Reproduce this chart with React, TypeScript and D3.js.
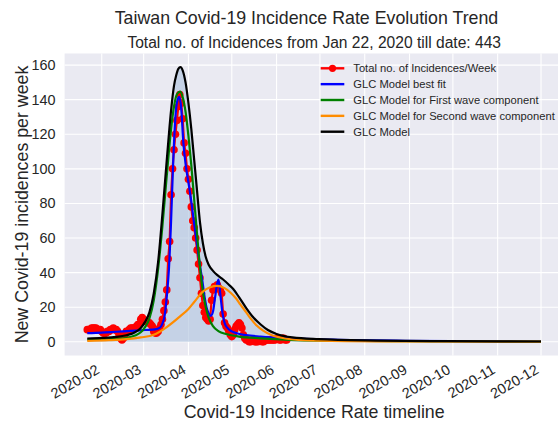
import React from 'react';
import * as d3 from 'd3';

// Day 0 = 2020-01-22
const START_DATE = '2020-01-22';

// Total no. of incidences per week (rolling), one value per day from Jan 22
const weeklyIncidences: number[] = [
  7, 7, 7, 8, 8, 8, 8, 7, 7, 7,
  6, 5, 5, 5, 6, 6,
  7, 7, 8, 7, 7, 6,
  4, 2, 1, 2,
  4, 6, 6, 7, 8, 8, 8, 8,
  9, 10, 10, 13, 14, 13,
  12, 12, 11, 11, 10, 9,
  6, 5, 5, 6, 8, 10, 13, 18, 23, 30,
  48, 58, 85, 100, 111, 120, 128, 136, 143,
  138, 129, 115, 109, 100, 94, 87, 78, 70, 66, 60,
  53, 45, 37, 28, 21, 17, 14, 13, 12, 13,
  24, 30, 32, 32, 33, 31, 30, 28, 16, 11,
  9, 8, 6, 4, 3, 4, 7, 9, 10, 11, 10, 8, 4, 2, 1,
  1, 0, 0, 1, 1, 0, 0, 0, 1, 1, 0, 0, 1, 1, 1, 1, 1, 1, 1, 1,
  2, 2, 1, 1, 2, 2, 1, 1,
];

// [day offset, value]
const glcBestFit: [number, number][] = [
  [0, 5], [10, 5.3], [20, 5.8], [30, 6.3], [40, 6.8], [47, 7.2], [50, 8], [52, 10.5],
  [53.5, 15], [55, 26], [56.5, 42], [58, 70], [59.5, 105], [61, 130], [62.5, 140],
  [63.7, 141.7], [65, 135], [66.5, 115], [68, 103], [70, 92], [71.5, 84], [74, 68],
  [76, 56], [78, 44], [79.5, 36], [81, 27], [82.5, 20], [84, 16.5], [85.5, 15],
  [87, 17.5], [88.5, 26], [90, 34], [90.8, 36], [92, 28], [93.5, 17], [95, 11],
  [97, 8], [100, 6], [104, 4.8], [110, 3.8], [120, 3], [140, 2], [170, 1.2],
  [220, 0.6], [314, 0.2],
];

const glcFirstWave: [number, number][] = [
  [0, 1.2], [15, 1.5], [27, 2.3], [33, 3.6], [37, 5.5], [40, 8.5], [43, 13.5],
  [46, 24], [49, 42], [52, 67], [55, 96], [58, 123], [60, 136], [62, 143],
  [64.3, 144.6], [66, 141.5], [68, 133], [70, 119], [72, 102], [74, 82], [76, 62],
  [78, 43], [80, 29], [82, 20], [84, 14], [87, 9], [91, 6], [96, 4.5], [105, 3],
  [120, 2], [140, 1.1], [170, 0.6], [220, 0.3], [314, 0.1],
];

const glcSecondWave: [number, number][] = [
  [0, 0.5], [15, 0.9], [27, 1.5], [37, 2.5], [46, 4], [55, 8.5], [64, 14.5],
  [70, 19], [74, 23], [80, 29], [85, 31.5], [90, 32.3], [95, 31], [99, 28.5],
  [103, 25], [106, 21.5], [110, 17], [113, 13.5], [117, 9.5], [122, 6.3],
  [127, 4], [131, 2.9], [137, 1.9], [143, 1.3], [160, 0.6], [200, 0.2], [314, 0.05],
];

const glcModel: [number, number][] = [
  [0, 1.9], [10, 2.2], [20, 2.8], [27, 3.8], [33, 5.5], [37, 8], [40, 11.5],
  [43, 17], [46, 28], [49, 46], [52, 74], [55, 105], [58, 134], [60, 148],
  [61.5, 154], [63, 157.8], [64.5, 158.8], [66, 157], [68, 150], [70, 138],
  [72, 123], [74, 105], [76, 87], [78, 69], [80, 57], [82, 49], [84, 44.5],
  [87, 41], [90, 38.5], [94, 36], [98, 33], [101, 30.5], [105, 25.8], [110, 19.5],
  [115, 14], [120, 10], [125, 6.8], [131, 4.5], [142, 2.5], [160, 1.5],
  [200, 0.7], [250, 0.35], [314, 0.15],
];

const monthTickLabels = [
  '2020-02', '2020-03', '2020-04', '2020-05', '2020-06', '2020-07',
  '2020-08', '2020-09', '2020-10', '2020-11', '2020-12',
];
const yTicks = [0, 20, 40, 60, 80, 100, 120, 140, 160];

const legendItems = [
  { label: 'Total no. of Incidences/Week', color: '#ff0000', marker: true },
  { label: 'GLC Model best fit', color: '#0000ff', marker: false },
  { label: 'GLC Model for First wave component', color: '#008000', marker: false },
  { label: 'GLC Model for Second wave component', color: '#ff8c00', marker: false },
  { label: 'GLC Model', color: '#000000', marker: false },
];

const FONT = 'Liberation Sans, Arial, sans-serif';
const TEXT = '#262626';

export default function App() {
  const W = 558, H = 428;
  const left = 64.6, right = 563.7, top = 53.5, bottom = 355.5;
  const start = d3.utcParse('%Y-%m-%d')(START_DATE) as Date;
  const toDate = (d: number) => new Date(start.getTime() + d * 86400000);
  const x = d3.scaleUtc().domain([toDate(-15.7), toDate(329.7)]).range([left, right]);
  const y = d3.scaleLinear().domain([-7.94, 166.7]).range([bottom, top]);
  const monthParse = d3.utcParse('%Y-%m');
  const tickDates = monthTickLabels.map((m) => monthParse(m) as Date);

  const curve = d3.line<[number, number]>()
    .x((d) => x(toDate(d[0])))
    .y((d) => y(d[1]))
    .curve(d3.curveMonotoneX);
  const area = d3.area<[number, number]>()
    .x((d) => x(toDate(d[0])))
    .y0(y(0))
    .y1((d) => y(d[1]))
    .curve(d3.curveMonotoneX);
  const redPts: [number, number][] = weeklyIncidences.map((v, i) => [i, v]);
  const redLine = d3.line<[number, number]>()
    .x((d) => x(toDate(d[0])))
    .y((d) => y(d[1]));

  const lw = 2.2;
  const legX = 320.7, legTextX = 353.3, legY0 = 68.3, legDy = 15.85;

  return (
    <svg width={W} height={H} style={{ position: 'absolute', left: 0, top: 0, background: '#fff' }}
      fontFamily={FONT}>
      <defs>
        <clipPath id="plotclip">
          <rect x={left} y={top} width={right - left} height={bottom - top} />
        </clipPath>
      </defs>
      <rect x={left} y={top} width={right - left} height={bottom - top} fill="#EAEAF2" />
      {yTicks.map((t) => (
        <line key={'gy' + t} x1={left} x2={right} y1={y(t)} y2={y(t)} stroke="#fff" strokeWidth={1.1} />
      ))}
      {tickDates.map((d, i) => (
        <line key={'gx' + i} x1={x(d)} x2={x(d)} y1={top} y2={bottom} stroke="#fff" strokeWidth={1.1} />
      ))}
      <g clipPath="url(#plotclip)">
        <path d={area(glcModel) || ''} fill="rgb(176,196,222)" fillOpacity={0.65} />
        <path d={redLine(redPts) || ''} fill="none" stroke="#ff0000" strokeWidth={lw} />
        {redPts.map((p, i) => (
          <circle key={'r' + i} cx={x(toDate(p[0]))} cy={y(p[1])} r={3.8} fill="#ff0000" />
        ))}
        <path d={curve(glcBestFit) || ''} fill="none" stroke="#0000ff" strokeWidth={lw} />
        <path d={curve(glcFirstWave) || ''} fill="none" stroke="#008000" strokeWidth={lw} />
        <path d={curve(glcSecondWave) || ''} fill="none" stroke="#ff8c00" strokeWidth={lw} />
        <path d={curve(glcModel) || ''} fill="none" stroke="#000000" strokeWidth={lw} />
      </g>
      {/* y tick labels */}
      {yTicks.map((t) => (
        <text key={'yt' + t} x={55.5} y={y(t)} dy="0.35em" textAnchor="end" fontSize={14.4} fill={TEXT}>{t}</text>
      ))}
      {/* x tick labels */}
      {tickDates.map((d, i) => (
        <text key={'xt' + i} transform={`translate(${x(d) - 7.5},${362}) rotate(-30)`} textAnchor="end"
          dy="0.85em" fontSize={14.4} fill={TEXT}>{monthTickLabels[i]}</text>
      ))}
      {/* legend */}
      {legendItems.map((it, i) => {
        const yy = legY0 + i * legDy;
        return (
          <g key={'lg' + i}>
            <line x1={legX} x2={legX + 23.6} y1={yy} y2={yy} stroke={it.color} strokeWidth={2.4} />
            {it.marker && <circle cx={legX + 11.8} cy={yy} r={3.6} fill={it.color} />}
            <text x={legTextX} y={yy} dy="0.36em" fontSize={11.2} fill={TEXT}>{it.label}</text>
          </g>
        );
      })}
      {/* titles */}
      <text x={306.5} y={24} textAnchor="middle" fontSize={17.8} fill={TEXT}>Taiwan Covid-19 Incidence Rate Evolution Trend</text>
      <text x={314.2} y={48} textAnchor="middle" fontSize={15.6} fill={TEXT}>Total no. of Incidences from Jan 22, 2020 till date: 443</text>
      <text x={314.2} y={417.5} textAnchor="middle" fontSize={17.8} fill={TEXT}>Covid-19 Incidence Rate timeline</text>
      <text transform={`translate(27.5,${(top + bottom) / 2}) rotate(-90)`} textAnchor="middle" fontSize={17.8} fill={TEXT}>New Covid-19 incidences per week</text>
    </svg>
  );
}
